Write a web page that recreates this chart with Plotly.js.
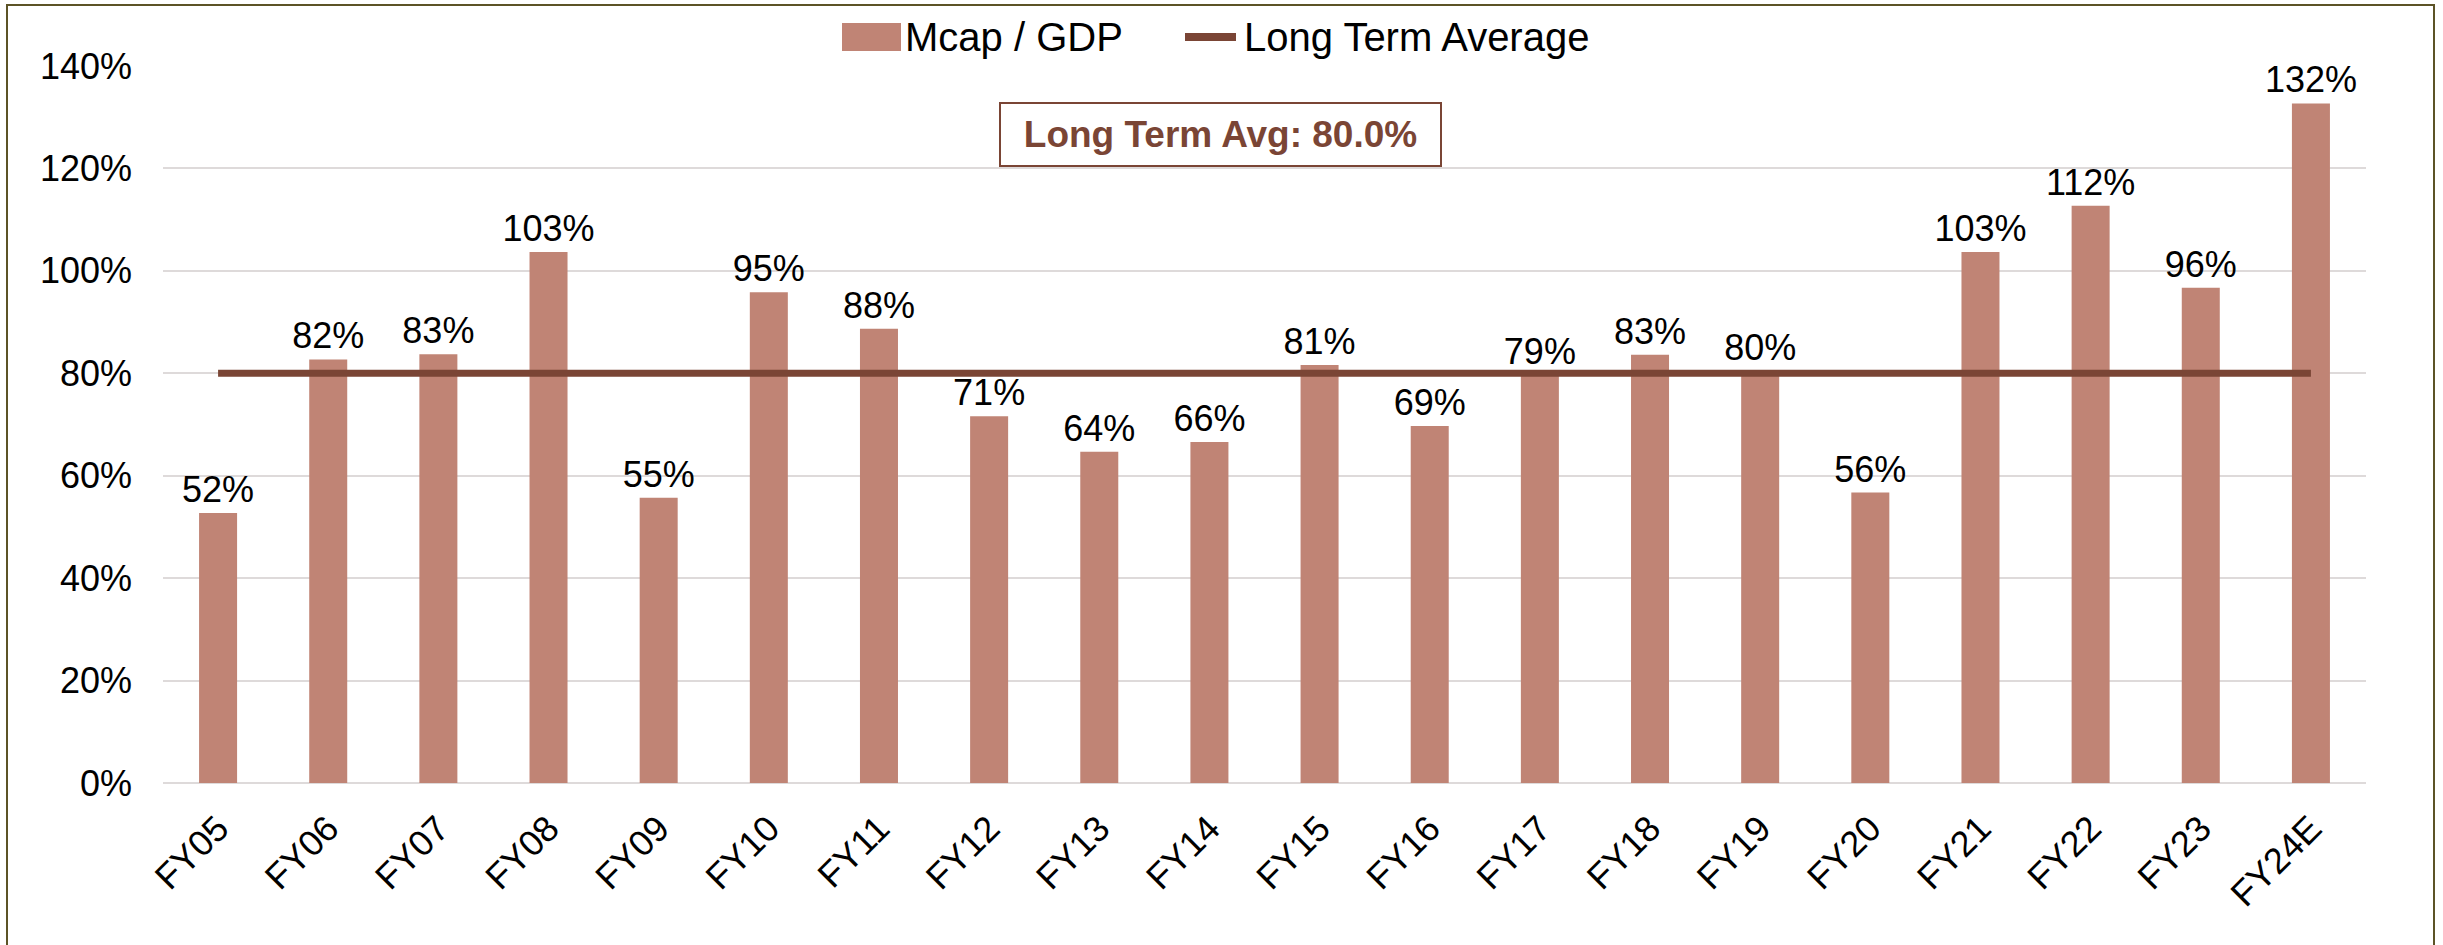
<!DOCTYPE html>
<html>
<head>
<meta charset="utf-8">
<script src="https://cdn.plot.ly/plotly-3.0.1.min.js"></script>
<style>
  html, body { margin: 0; padding: 0; background: #fff; }
  #chart { width: 2443px; height: 945px; }
</style>
</head>
<body>
<div id="chart"></div>
<script>
    // Market cap to GDP, with the long term average line.
    var years = ['FY05', 'FY06', 'FY07', 'FY08', 'FY09', 'FY10', 'FY11', 'FY12', 'FY13', 'FY14',
                 'FY15', 'FY16', 'FY17', 'FY18', 'FY19', 'FY20', 'FY21', 'FY22', 'FY23', 'FY24E'];
    var mcapGdp = [52.7, 82.7, 83.7, 103.7, 55.7, 95.8, 88.7, 71.6, 64.7, 66.6,
                   81.6, 69.7, 79.7, 83.6, 80.4, 56.7, 103.7, 112.7, 96.7, 132.7];
    var mcapLabels = [52, 82, 83, 103, 55, 95, 88, 71, 64, 66,
                      81, 69, 79, 83, 80, 56, 103, 112, 96, 132];
    var longTermAvg = 80.0;

    var BAR = '#C08475', AVG = '#7A4535', INK = '#000000', GRID = '#DEDADA', FRAME = '#5C5326';
    var FONT = 'Liberation Sans, Arial, sans-serif';

    // plot area in page pixels, used to place the hand-made legend and frame
    var L = 163, R = 2366, T = 66, B = 783;
    function px(x) { return (x - L) / (R - L); }
    function py(y) { return (B - y) / (B - T); }

    var bars = {
        type: 'bar', x: years, y: mcapGdp, name: 'Mcap / GDP',
        marker: { color: BAR, line: { width: 0 } },
        text: mcapLabels.map(function (v) { return v + '%'; }),
        textposition: 'outside', constraintext: 'none', cliponaxis: false,
        textfont: { family: FONT, size: 36, color: INK },
        hoverinfo: 'x+y', showlegend: false,
    };

    var avg = {
        type: 'scatter', mode: 'lines', x: years,
        y: years.map(function () { return longTermAvg; }),
        name: 'Long Term Average',
        line: { color: AVG, width: 7 }, showlegend: false,
    };

    var layout = {
        width: 2443, height: 945,
        paper_bgcolor: '#fff', plot_bgcolor: '#fff',
        margin: { l: L, r: 2443 - R, t: T, b: 945 - B },
        font: { family: FONT, color: INK, size: 36 },
        bargap: 0.655,
        showlegend: false,
        xaxis: {
            type: 'category', tickangle: -45, ticks: '', showgrid: false,
            showline: false, zeroline: false, ticklabelstandoff: 16,
            tickfont: { family: FONT, size: 36, color: INK },
        },
        yaxis: {
            range: [0, 140], dtick: 20, ticksuffix: '%', ticks: '',
            showgrid: true, gridcolor: GRID, gridwidth: 2,
            zeroline: true, zerolinecolor: GRID, zerolinewidth: 2,
            showline: false, ticklabelstandoff: 30,
            tickfont: { family: FONT, size: 36, color: INK },
        },
        shapes: [
            // outer frame
            { type: 'rect', xref: 'paper', yref: 'paper', layer: 'below',
              x0: px(7), x1: px(2434), y0: py(960), y1: py(5),
              line: { color: FRAME, width: 2 }, fillcolor: 'rgba(0,0,0,0)' },
            // legend swatches
            { type: 'rect', xref: 'paper', yref: 'paper',
              x0: px(842), x1: px(901), y0: py(51), y1: py(23),
              line: { width: 0 }, fillcolor: BAR },
            { type: 'line', xref: 'paper', yref: 'paper',
              x0: px(1185), x1: px(1236), y0: py(37), y1: py(37),
              line: { color: AVG, width: 8 } },
        ],
        annotations: [
            { xref: 'paper', yref: 'paper', x: px(903), y: py(37), xanchor: 'left', yanchor: 'middle',
              text: 'Mcap / GDP', showarrow: false, font: { family: FONT, size: 40, color: INK } },
            { xref: 'paper', yref: 'paper', x: px(1242), y: py(37), xanchor: 'left', yanchor: 'middle',
              text: 'Long Term Average', showarrow: false, font: { family: FONT, size: 40, color: INK } },
            { xref: 'paper', yref: 'paper', x: px(1220.5), y: py(134.5), xanchor: 'center', yanchor: 'middle',
              text: '<b>Long Term Avg: ' + longTermAvg.toFixed(1) + '%</b>', showarrow: false,
              width: 439, height: 61, borderpad: 0, borderwidth: 2, bordercolor: AVG, bgcolor: '#fff',
              font: { family: FONT, size: 37, color: AVG } },
        ],
    };

    Plotly.newPlot('chart', [bars, avg], layout, { displayModeBar: false, staticPlot: true });
</script>
</body>
</html>
